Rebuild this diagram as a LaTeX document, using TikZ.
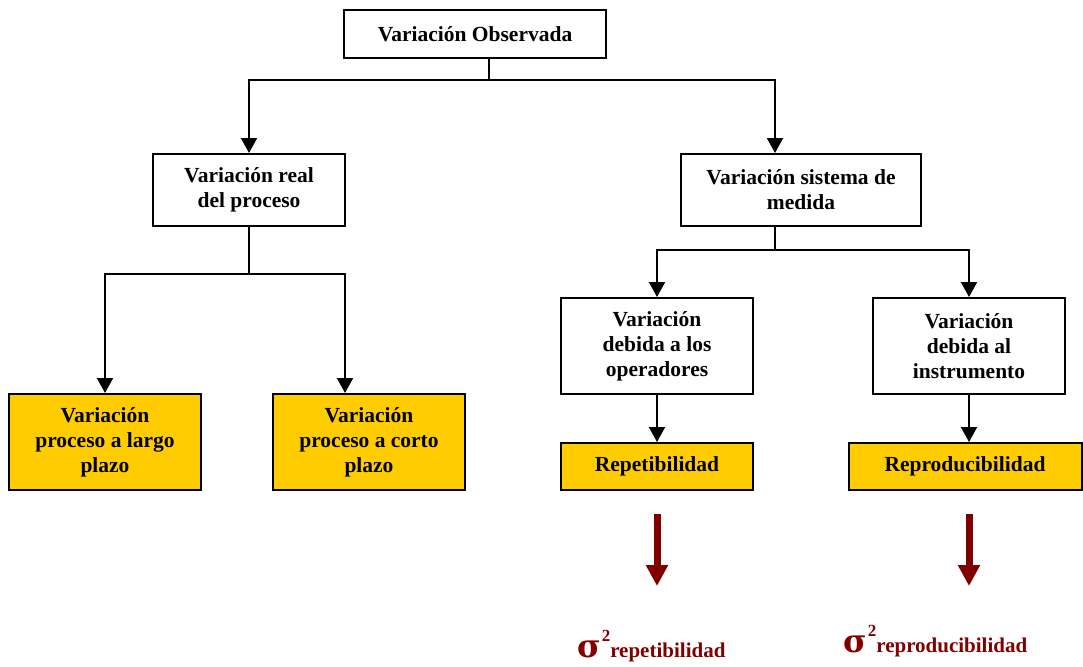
\documentclass[tikz,border=0pt]{standalone}
\usepackage{fontspec}
\setmainfont{Liberation Serif}
\newfontfamily\greekfont{DejaVu Serif}
\usetikzlibrary{arrows.meta}
\definecolor{boxyellow}{HTML}{FFCC00}
\definecolor{maroon}{HTML}{800000}
\tikzset{
  box/.style={draw=black, line width=2pt, fill=white, minimum width=192pt,
    align=center, inner sep=0pt, font=\fontsize{21.5}{25}\selectfont\bfseries},
  hlbox/.style={box, fill=boxyellow},
  conn/.style={line width=2pt},
  arr/.style={conn, -{Triangle[width=16pt,length=15pt]}},
  bigarr/.style={draw=maroon, line width=7pt, -{Triangle[width=21pt,length=21pt]}},
  sigmalabel/.style={text=maroon, inner sep=0pt, anchor=base west, font=\bfseries}
}
\newcommand{\sigmasub}[1]{{\greekfont\fontsize{32}{32}\selectfont σ}\kern1pt\raisebox{16pt}{\fontsize{17}{17}\selectfont 2}{\fontsize{21}{21}\selectfont #1}}
\begin{document}
\begin{tikzpicture}[x=1pt,y=-1pt]
\useasboundingbox (0,0) rectangle (1083,666);
% top level
\node[box, minimum width=262pt, minimum height=48pt] (obs) at (475,34) {Variación Observada};
% second level
\node[box, minimum height=72pt] (real) at (249,190) {Variación real\\del proceso};
\node[box, minimum width=240pt, minimum height=72pt] (sis) at (801,190) {Variación sistema de\\medida};
% process branch
\node[hlbox, minimum height=96pt] (largo) at (105,442) {Variación\\proceso a largo\\plazo};
\node[hlbox, minimum height=96pt] (corto) at (369,442) {Variación\\proceso a corto\\plazo};
% measurement branch
\node[box, minimum height=96pt] (oper) at (657,346) {Variación\\debida a los\\operadores};
\node[box, minimum height=96pt] (instr) at (969,346) {Variación\\debida al\\instrumento};
\node[hlbox, minimum height=47pt] (rep) at (657,466.5) {Repetibilidad};
\node[hlbox, minimum width=233pt, minimum height=47pt] (repro) at (965,466.5) {Reproducibilidad};
% variance labels
\node[sigmalabel] (s1) at (577,657) {\sigmasub{repetibilidad}};
\node[sigmalabel] (s2) at (843,652) {\sigmasub{reproducibilidad}};

% junction points
\coordinate (j1) at (489,80);
\coordinate (j2) at (249,274);
\coordinate (j3) at (775,250);
\coordinate (xs) at (775,0);
\coordinate (xc) at (345,0);

% connectors
\draw[conn] (obs.south -| j1) -- (j1);
\draw[arr] (j1) -| (real.north);
\draw[arr] (j1) -| (sis.north -| xs);
\draw[conn] (real.south) -- (j2);
\draw[arr] (j2) -| (largo.north);
\draw[arr] (j2) -| (corto.north -| xc);
\draw[conn] (sis.south -| j3) -- (j3);
\draw[arr] (j3) -| (oper.north);
\draw[arr] (j3) -| (instr.north);
\draw[arr] (oper.south) -- (rep.north);
\draw[arr] (instr.south) -- (repro.north -| instr.south);

% maroon arrows towards the variance labels
\coordinate (a1) at (657,514);
\coordinate (b1) at (657,586);
\coordinate (a2) at (969,514);
\coordinate (b2) at (969,586);
\draw[bigarr] (a1) -- (b1);
\draw[bigarr] (a2) -- (b2);
\end{tikzpicture}
\end{document}
